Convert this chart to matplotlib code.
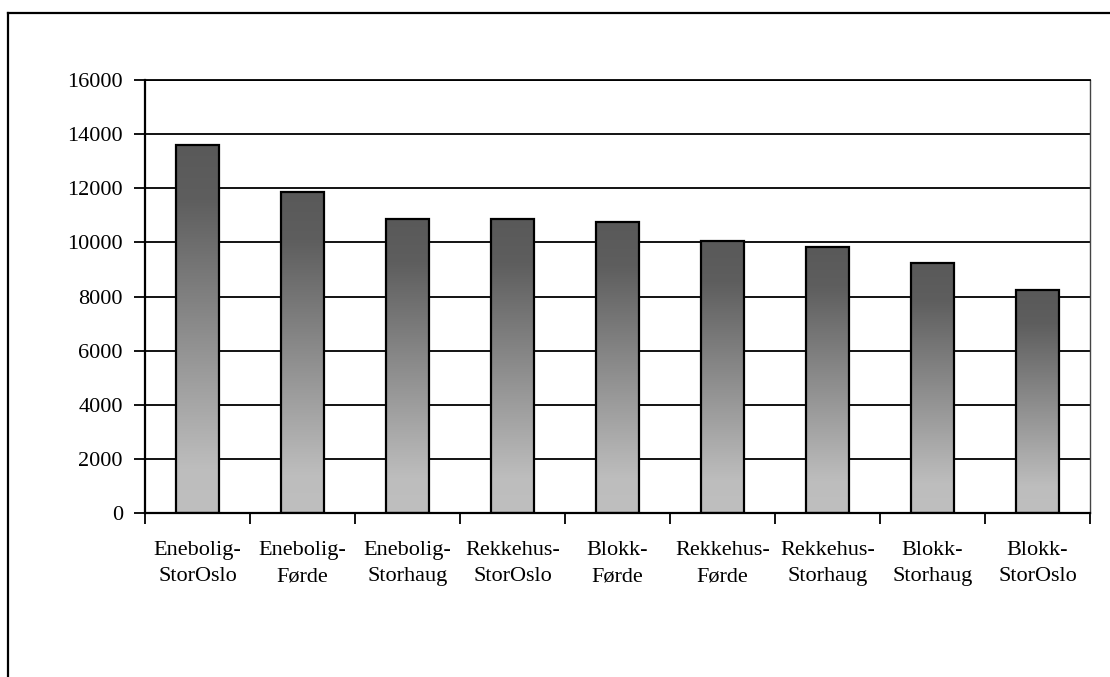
import matplotlib
matplotlib.use("Agg")
import matplotlib.pyplot as plt
import numpy as np
from matplotlib.colors import LinearSegmentedColormap
from matplotlib.lines import Line2D

categories = ["Enebolig-\nStorOslo", "Enebolig-\nFørde", "Enebolig-\nStorhaug",
              "Rekkehus-\nStorOslo", "Blokk-\nFørde", "Rekkehus-\nFørde",
              "Rekkehus-\nStorhaug", "Blokk-\nStorhaug", "Blokk-\nStorOslo"]
values = [13600, 11850, 10870, 10850, 10740, 10040, 9830, 9250, 8240]
yticks = [0, 2000, 4000, 6000, 8000, 10000, 12000, 14000, 16000]

plt.rcParams['font.family'] = ['Liberation Serif', 'DejaVu Serif']

W, H = 1110, 677
fig = plt.figure(figsize=(W / 100, H / 100), dpi=100)
ax = fig.add_axes([145/W, 1 - 513/H, (1090-145)/W, (513-80)/H])

x = np.arange(len(values))
width = 0.41
cmap = LinearSegmentedColormap.from_list(
    "g", [(0.0, "#bfbfbf"), (0.12, "#bdbdbd"), (0.85, "#5e5e5e"), (1.0, "#595959")])
grad = np.linspace(0, 1, 256).reshape(-1, 1)

for yv in yticks[1:]:
    ax.axhline(yv, color="black", lw=1.3, zorder=1)

bars = ax.bar(x, values, width=width, facecolor="none", edgecolor="black",
              linewidth=1.6, zorder=3)
for b in bars:
    x0, w, h = b.get_x(), b.get_width(), b.get_height()
    im = ax.imshow(grad, cmap=cmap, origin="lower", aspect="auto",
                   extent=(x0, x0 + w, 0, h), zorder=2, interpolation="bilinear")
    im.set_clip_path(b)
ax.set_xlim(-0.5, len(values) - 0.5)
ax.set_ylim(0, 16000)

ax.set_yticks(yticks)
ax.set_yticklabels([str(v) for v in yticks], fontsize=16)
ax.tick_params(axis="y", direction="out", length=8, width=1.3, pad=8)

ax.set_xticks(np.arange(-0.5, len(values), 1.0))
ax.set_xticklabels([])
ax.set_xticks(x, minor=True)
ax.set_xticklabels(categories, minor=True, fontsize=16, linespacing=1.55)
ax.tick_params(axis="x", which="major", direction="out", length=8, width=1.3)
ax.tick_params(axis="x", which="minor", length=0, pad=20)

for s in ["left", "bottom"]:
    ax.spines[s].set_linewidth(1.6)
ax.spines["top"].set_linewidth(1.3)
ax.spines["right"].set_linewidth(1.0)
ax.spines["right"].set_color("#444444")

# outer chart border (only top and left visible in the crop)
fig.add_artist(Line2D([8/W, 1.05], [1 - 13/H, 1 - 13/H], transform=fig.transFigure,
                      color="black", lw=1.6))
fig.add_artist(Line2D([8/W, 8/W], [-0.05, 1 - 13/H], transform=fig.transFigure,
                      color="black", lw=1.6))

fig.savefig("out.png", dpi=100)
